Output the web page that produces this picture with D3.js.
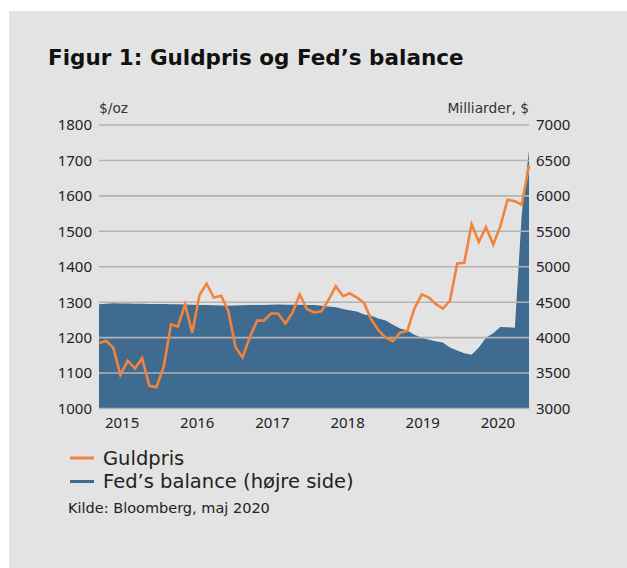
<!DOCTYPE html>
<html lang="da">
<head>
<meta charset="UTF-8">
<title>Figur 1: Guldpris og Fed's balance</title>
<script src="https://cdn.jsdelivr.net/npm/d3@7"></script>
<style>
  html, body { margin: 0; padding: 0; background: #fff; }
  svg { display: block; font-family: "DejaVu Sans", sans-serif; }
</style>
</head>
<body>
<div id="chart"></div>
<script>
// månedlige observationer, apr 2015 - apr 2020
const months = d3.timeMonth.range(new Date(2015, 3, 1), new Date(2020, 4, 1));

// guldpris, $/oz (månedsslut)
const guldpris = [
  1184, 1191, 1171, 1095, 1135, 1113, 1142, 1064, 1060,
  1118, 1238, 1231, 1294, 1214, 1320, 1352, 1313, 1318, 1276, 1173, 1144,
  1202, 1248, 1248, 1268, 1268, 1240, 1270, 1322, 1280, 1271, 1274, 1306,
  1345, 1317, 1325, 1313, 1298, 1251, 1221, 1200, 1190, 1214, 1219, 1282,
  1322, 1313, 1295, 1282, 1304, 1409, 1411, 1520, 1470, 1512, 1463, 1514,
  1589, 1585, 1575, 1686
];

// Fed's balance, mia. $ (højre akse)
const fedBalance = [
  4470, 4478, 4485, 4482, 4481, 4479, 4478, 4476, 4474,
  4475, 4472, 4470, 4468, 4465, 4462, 4460, 4458, 4452, 4450, 4455, 4458,
  4460, 4462, 4462, 4465, 4466, 4465, 4464, 4465, 4460, 4460, 4450, 4440,
  4430, 4405, 4385, 4370, 4325, 4310, 4270, 4240, 4180, 4130, 4100, 4040,
  4000, 3970, 3950, 3930, 3860, 3820, 3780, 3760, 3860, 4000, 4060, 4150,
  4145, 4140, 5730, 6640
];

const leftTicks = [1000, 1100, 1200, 1300, 1400, 1500, 1600, 1700, 1800];
const rightTicks = [3000, 3500, 4000, 4500, 5000, 5500, 6000, 6500, 7000];
const yearLabels = [2015, 2016, 2017, 2018, 2019, 2020];

const W = 627, H = 568;
const margin = { left: 99, right: 98, top: 125, bottom: 159.5 };
const w = W - margin.left - margin.right;
const h = H - margin.top - margin.bottom;

const svg = d3.select("#chart").append("svg")
  .attr("width", W).attr("height", H);

// grå baggrund
svg.append("rect")
  .attr("x", 9).attr("y", 11)
  .attr("width", W - 9).attr("height", H - 11)
  .attr("fill", "#e3e3e3");

svg.append("text")
  .attr("x", 48).attr("y", 65)
  .attr("font-size", 21.5).attr("font-weight", 700)
  .attr("fill", "#111")
  .text("Figur 1: Guldpris og Fed\u2019s balance");

const g = svg.append("g").attr("transform", `translate(${margin.left},${margin.top})`);

const x = d3.scaleTime().domain(d3.extent(months)).range([0, w]);
const yL = d3.scaleLinear().domain([1000, 1800]).range([h, 0]);
const yR = d3.scaleLinear().domain([3000, 7000]).range([h, 0]);
// årstal sidder forskudt i forhold til data i originalen
const xYear = d3.scaleLinear().domain([2014.7, 2020.42]).range([0, w]);

const fed = months.map((d, i) => ({ date: d, v: fedBalance[i] }));
const gold = months.map((d, i) => ({ date: d, v: guldpris[i] }));

g.append("path")
  .datum(fed)
  .attr("fill", "#3e6b8f")
  .attr("d", d3.area().x(d => x(d.date)).y0(h).y1(d => yR(d.v)));

// gitterlinjer
g.selectAll(".grid")
  .data(leftTicks)
  .enter().append("line")
  .attr("x1", 0).attr("x2", w)
  .attr("y1", d => yL(d)).attr("y2", d => yL(d))
  .attr("stroke", "#b3b3b3").attr("stroke-width", 1.6);

g.append("path")
  .datum(gold)
  .attr("fill", "none")
  .attr("stroke", "#f0843c")
  .attr("stroke-width", 2.6)
  .attr("d", d3.line().x(d => x(d.date)).y(d => yL(d.v)));

// akser
const axisL = g.append("g")
  .call(d3.axisLeft(yL).tickValues(leftTicks).tickSize(0).tickPadding(7).tickFormat(d3.format("d")));
const axisR = g.append("g")
  .attr("transform", `translate(${w},0)`)
  .call(d3.axisRight(yR).tickValues(rightTicks).tickSize(0).tickPadding(7).tickFormat(d3.format("d")));
const axisB = g.append("g")
  .attr("transform", `translate(0,${h})`)
  .call(d3.axisBottom(xYear).tickValues(yearLabels).tickSize(0).tickPadding(9).tickFormat(d3.format("d")));

[axisL, axisR, axisB].forEach(a => {
  a.select(".domain").remove();
  a.selectAll("text")
    .attr("font-family", "'Noto Sans', 'DejaVu Sans', sans-serif")
    .attr("font-size", 15).attr("fill", "#222");
});

g.append("text")
  .attr("x", 0).attr("y", -12)
  .attr("font-size", 13.8).attr("fill", "#333")
  .text("$/oz");
g.append("text")
  .attr("x", w).attr("y", -12)
  .attr("text-anchor", "end")
  .attr("font-size", 13.8).attr("fill", "#333")
  .text("Milliarder, $");

// forklaring
const legend = [
  { label: "Guldpris", color: "#f0843c" },
  { label: "Fed\u2019s balance (h\u00f8jre side)", color: "#3e6b8f" }
];
const lg = svg.append("g").attr("transform", "translate(70,458)");
legend.forEach((d, i) => {
  lg.append("line")
    .attr("x1", 0).attr("x2", 24)
    .attr("y1", i * 23.5).attr("y2", i * 23.5)
    .attr("stroke", d.color).attr("stroke-width", 3);
  lg.append("text")
    .attr("x", 33).attr("y", i * 23.5 + 6.5)
    .attr("font-size", 19.5).attr("fill", "#222")
    .text(d.label);
});

svg.append("text")
  .attr("x", 68).attr("y", 512.5)
  .attr("font-size", 14.5).attr("fill", "#222")
  .text("Kilde: Bloomberg, maj 2020");
</script>
</body>
</html>
